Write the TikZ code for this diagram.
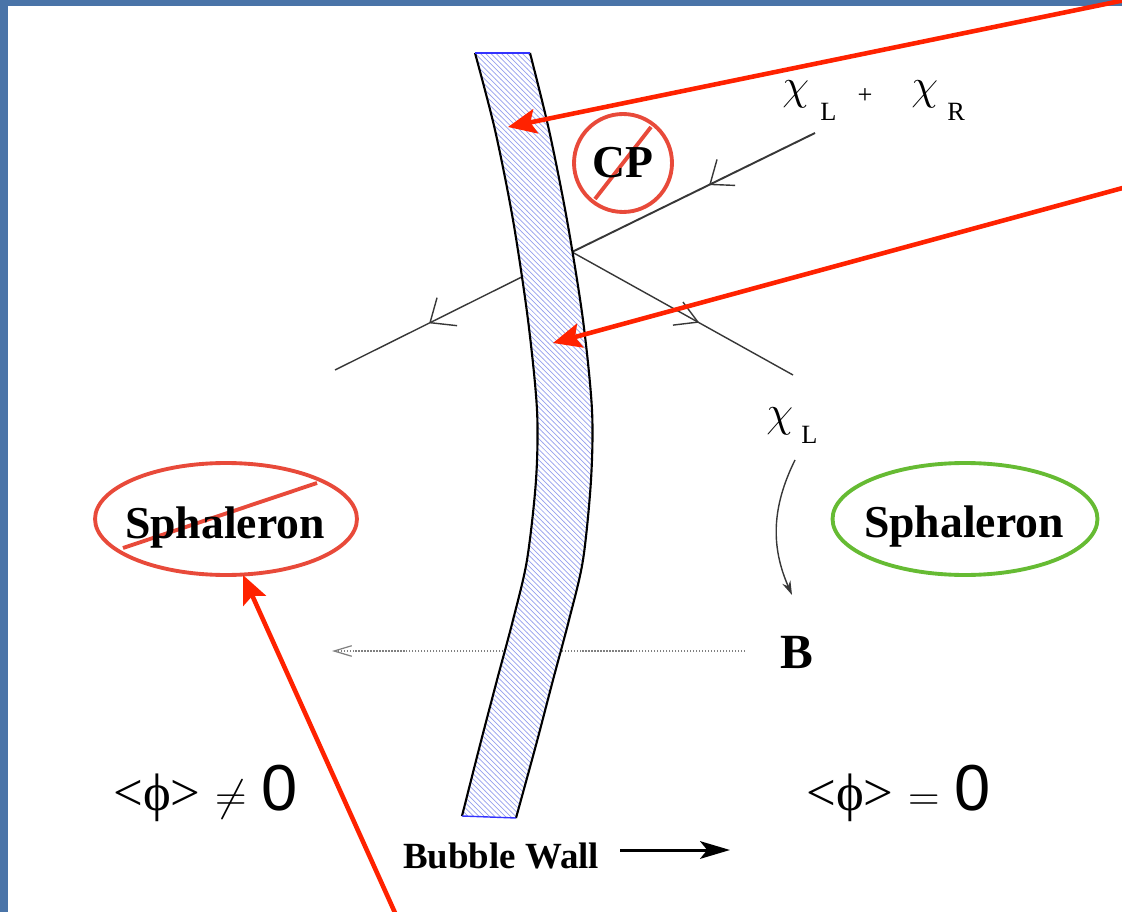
\documentclass[tikz,border=0pt]{standalone}
\usepackage{fontspec}
\setmainfont{Liberation Serif}
\setsansfont{Liberation Sans}
\usetikzlibrary{arrows.meta,patterns,calc,shapes.geometric}
\definecolor{frameblue}{RGB}{74,116,168}
\definecolor{arrred}{RGB}{255,34,0}
\definecolor{ringred}{RGB}{232,74,58}
\definecolor{sphgreen}{RGB}{102,187,51}
\definecolor{hatchblue}{RGB}{150,160,238}
\definecolor{lineg}{RGB}{55,55,55}
\begin{document}
\begin{tikzpicture}[x=0.02cm,y=-0.02cm,
  redarrow/.style={draw=arrred,line width=2.6pt,-{Stealth[length=16pt,width=14pt,inset=3pt]}},
  ringstyle/.style={draw=ringred,line width=2.2pt},
  boldlbl/.style={font=\fontsize{26}{26}\selectfont\bfseries,inner sep=0pt},
  chilbl/.style={font=\fontsize{29}{29}\selectfont,inner sep=0pt,anchor=base west},
  sublbl/.style={font=\fontsize{15}{15}\selectfont,inner sep=0pt,anchor=base west},
  phil/.style={font=\fontsize{30}{30}\selectfont,inner sep=0pt,anchor=base west},
  ray/.style={draw=lineg,line width=0.8pt},
  barb/.style={draw=lineg,line width=0.8pt},
  wallside/.style={draw=black,line width=1.2pt},
  wallend/.style={draw=blue!80,line width=0.8pt}
]
\useasboundingbox (0,0) rectangle (1122,912);
% frame
\fill[frameblue] (0,0) rectangle (8,912);
\fill[frameblue] (0,0) rectangle (1122,6);

% particle lines
\coordinate (inA) at (815,133);
\coordinate (V) at (572,252);
\coordinate (outL) at (335,370);
\coordinate (outR) at (793,375);
\draw[ray,line width=1.1pt] (inA) -- (V);
\draw[ray] (V) -- (outL);
\draw[ray] (V) -- (outR);
\coordinate (t1) at ($(inA)!0.432!(V)$);
\coordinate (t2) at ($(V)!0.599!(outL)$);
\coordinate (t3) at ($(V)!0.57!(outR)$);
\draw[barb] (t1) -- ++(7,-25);
\draw[barb] (t1) -- ++(25,1);
\draw[barb] (t2) -- ++(7,-25);
\draw[barb] (t2) -- ++(27,3);
\draw[barb] (t3) -- ++(-25,3);
\draw[barb] (t3) -- ++(-15,-20);

% dotted B line
\coordinate (dotR) at (745,651);
\coordinate (dotL) at (332,651);
\draw[gray,densely dotted,line width=0.7pt,-{Straight Barb[length=10pt,width=6pt]}] (dotR) -- (dotL);

% bubble wall
\path[fill=white,postaction={pattern=north west lines,pattern color=hatchblue}]
  plot[smooth] coordinates {(475,53) (495,130) (513,220) (528,320) (537,410) (536,480) (527,560) (513,620) (497,680) (480,745) (462,816)}
  -- plot[smooth] coordinates {(516,818) (536,745) (553,680) (569,620) (583,560) (591,480) (592,410) (583,320) (567,220) (549,130) (530,53)} -- cycle;
\draw[wallside] plot[smooth] coordinates {(475,53) (495,130) (513,220) (528,320) (537,410) (536,480) (527,560) (513,620) (497,680) (480,745) (462,816)};
\draw[wallside] plot[smooth] coordinates {(530,53) (549,130) (567,220) (583,320) (592,410) (591,480) (583,560) (569,620) (553,680) (536,745) (516,818)};
\draw[wallend] (475,53) -- (530,53);
\draw[wallend] (462,816) -- (516,818);

% CP
\node[circle,ringstyle,minimum size=1.96cm,inner sep=0pt] (cp) at (623,163) {};
\draw[ringstyle] (595,199) -- (651,127);
\node[boldlbl,anchor=base] (cpt) at (623,178) {CP};

% labels chi
\node[chilbl] (chi1) at (782,100) {$\chi$};
\node[sublbl] (l1) at (820,121) {L};
\node[sublbl,anchor=center] (plus) at (865,96) {+};
\node[chilbl] (chi2) at (911,100) {$\chi$};
\node[sublbl] (r1) at (947,121) {R};
\node[chilbl] (chi3) at (766,426) {$\chi$};
\node[sublbl] (l3) at (801,443) {L};

% curved arrow to B
\coordinate (cA) at (795,460);
\coordinate (cB) at (792,595);
\draw[lineg,line width=0.8pt,-{Stealth[length=8pt,width=5pt]}] (cA) to[bend right=25] (cB);
\node[boldlbl,font=\fontsize{28}{28}\selectfont\bfseries,anchor=base] (B) at (797,668) {B};

% sphalerons
\node[ellipse,ringstyle,minimum width=5.24cm,minimum height=2.24cm,inner sep=0pt] (sphL) at (226,519) {};
\draw[ringstyle] (123,548) -- (317,483);
\node[boldlbl,anchor=base] (sphLt) at (225,538) {Sphaleron};
\node[ellipse,draw=sphgreen,line width=2.2pt,minimum width=5.3cm,minimum height=2.24cm,inner sep=0pt] (sphR) at (965,519) {};
\node[boldlbl,anchor=base] (sphRt) at (964,537) {Sphaleron};

% vev
\node[phil] (vevL) at (113,810) {<ϕ>\;$\neq$\;{\sffamily\fontsize{37}{37}\selectfont 0}};
\node[phil] (vevR) at (806,810) {<ϕ>\;$=$\;{\sffamily\fontsize{37}{37}\selectfont 0}};

% bubble wall label
\node[font=\fontsize{21}{21}\selectfont\bfseries,inner sep=0pt,anchor=base west] (bw) at (403,868) {Bubble Wall};
\coordinate (bwA) at (620,850);
\coordinate (bwB) at (730,850);
\draw[black,line width=1.7pt,-{Stealth[length=17pt,width=10pt,inset=4pt]}] (bwA) -- (bwB);

% red arrows
\coordinate (r1s) at (1130,-1);
\coordinate (r1e) at (508,127);
\coordinate (r2s) at (1130,186);
\coordinate (r2e) at (553,343);
\coordinate (r3s) at (396,915);
\coordinate (r3e) at (243,575);
\draw[redarrow] (r1s) -- (r1e);
\draw[redarrow] (r2s) -- (r2e);
\draw[redarrow] (r3s) -- (r3e);
\end{tikzpicture}
\end{document}
